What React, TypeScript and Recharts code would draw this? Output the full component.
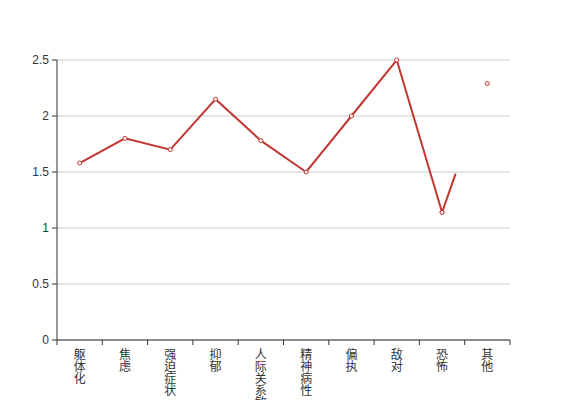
import React from "react";
import { LineChart, Line, XAxis, YAxis, CartesianGrid } from "recharts";

const categories = ["躯体化", "焦虑", "强迫症状", "抑郁", "人际关系敏感", "精神病性", "偏执", "敌对", "恐怖", "其他"];
const scores = [1.58, 1.8, 1.7, 2.15, 1.78, 1.5, 2.0, 2.5, 1.14, 2.29];
const yTicks = [0, 0.5, 1, 1.5, 2, 2.5];
// index of the last point reached by the fully drawn line
const mainEnd = 8;

const data = categories.map((name, i) => ({
  name,
  main: i <= mainEnd ? scores[i] : null,
  tail: i >= mainEnd ? scores[i] : null,
}));

const RED = "#c23531";
const FONT = "'Liberation Sans', 'Noto Sans CJK SC', sans-serif";
const CJK = "'Noto Sans CJK SC', sans-serif";

const VerticalTick = (props: any) => {
  const { x, y, payload, index, visibleTicksCount } = props;
  const off = payload.offset || 0;
  const chars = String(payload.value).split("");
  const isLast = index === visibleTicksCount - 1;
  return (
    <g>
      <line x1={x - off} x2={x - off} y1={y} y2={y + 5} stroke="#333" />
      {isLast && <line x1={x + off} x2={x + off} y1={y} y2={y + 5} stroke="#333" />}
      <text x={x} y={y} textAnchor="middle" fill="#333" fontSize={12} fontFamily={CJK}>
        {chars.map((c, i) => (
          <tspan key={i} x={x} dy={i === 0 ? 18.5 : 12}>
            {c}
          </tspan>
        ))}
      </text>
    </g>
  );
};

export default function App() {
  return (
    <div style={{ position: "absolute", left: 0, top: 0, width: 567, height: 400, background: "#fff" }}>
      <LineChart width={567} height={400} data={data} margin={{ top: 60, right: 57, bottom: 0, left: 0 }}>
        <CartesianGrid horizontal vertical={false} stroke="#ccc" />
        <XAxis
          dataKey="name"
          scale="band"
          interval={0}
          height={60}
          tickLine={false}
          tickSize={0}
          tickMargin={0}
          axisLine={{ stroke: "#333" }}
          tick={<VerticalTick />}
        />
        <YAxis
          width={57}
          domain={[0, 2.5]}
          ticks={yTicks}
          interval={0}
          tickSize={5}
          tickMargin={3}
          axisLine={{ stroke: "#333" }}
          tickLine={{ stroke: "#333" }}
          tick={{ fill: "#333", fontSize: 12, fontFamily: FONT }}
        />
        <Line
          dataKey="main"
          stroke={RED}
          strokeWidth={2}
          type="linear"
          dot={{ r: 2, stroke: RED, strokeWidth: 1, fill: "#fff" }}
          activeDot={false}
          isAnimationActive={false}
        />
        <Line
          dataKey="tail"
          stroke={RED}
          strokeWidth={2}
          strokeDasharray="41 1000"
          type="linear"
          dot={{ r: 2, stroke: RED, strokeWidth: 1, fill: "#fff", strokeDasharray: "0" }}
          activeDot={false}
          isAnimationActive={false}
        />
      </LineChart>
    </div>
  );
}
